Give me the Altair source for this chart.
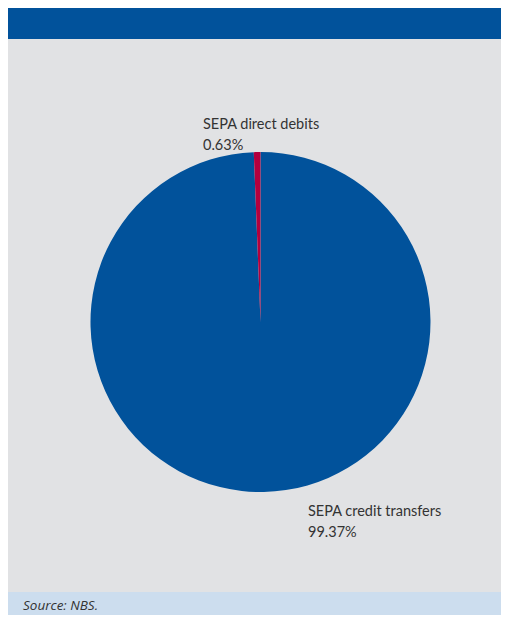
import altair as alt
import pandas as pd

categories = ["SEPA credit transfers", "SEPA direct debits"]
shares = [99.37, 0.63]
share_labels = ["99.37%", "0.63%"]
source_text = "Source: NBS."

df = pd.DataFrame({"category": categories, "share": shares, "label": share_labels,
                   "order": [0, 1]})
df["text"] = df["category"] + "\n" + df["label"]

W, H = 493, 607
FONT = "Lato"

base = alt.Chart(df)

top_band = alt.Chart(pd.DataFrame({"k": [0]})).mark_rect(color="#01529B").encode(
    x=alt.value(0), x2=alt.value(W), y=alt.value(0), y2=alt.value(31))
bottom_band = alt.Chart(pd.DataFrame({"k": [0]})).mark_rect(color="#CCDDEE").encode(
    x=alt.value(0), x2=alt.value(W), y=alt.value(584), y2=alt.value(H))

pie = base.mark_arc(radius=170).encode(
    theta=alt.Theta("share:Q", stack=True),
    order=alt.Order("order:Q"),
    color=alt.Color("category:N", scale=alt.Scale(domain=categories, range=["#01529B", "#B3003E"]),
                    legend=None),
    x=alt.value(252.5), y=alt.value(314),
)

lab_dd = base.transform_filter(alt.datum.category == "SEPA direct debits").mark_text(
    align="left", baseline="alphabetic", font=FONT, fontSize=14.5, color="#333333",
    lineBreak="\n", lineHeight=21).encode(text="text:N", x=alt.value(195), y=alt.value(121))
lab_ct = base.transform_filter(alt.datum.category == "SEPA credit transfers").mark_text(
    align="left", baseline="alphabetic", font=FONT, fontSize=14.5, color="#333333",
    lineBreak="\n", lineHeight=21).encode(text="text:N", x=alt.value(300), y=alt.value(508))

src = alt.Chart(pd.DataFrame({"t": [source_text]})).mark_text(
    align="left", baseline="alphabetic", font="Open Sans", fontSize=13.5, fontStyle="italic",
    color="#333333").encode(text="t:N", x=alt.value(15), y=alt.value(602))

chart = alt.layer(top_band, bottom_band, pie, lab_dd, lab_ct, src).properties(
    width=W, height=H, background="#E1E2E4", padding=0,
    autosize=alt.AutoSizeParams(type="none"),
).configure_view(stroke=None)

chart.save("out.html", embed_options={"renderer": "svg", "actions": False})
